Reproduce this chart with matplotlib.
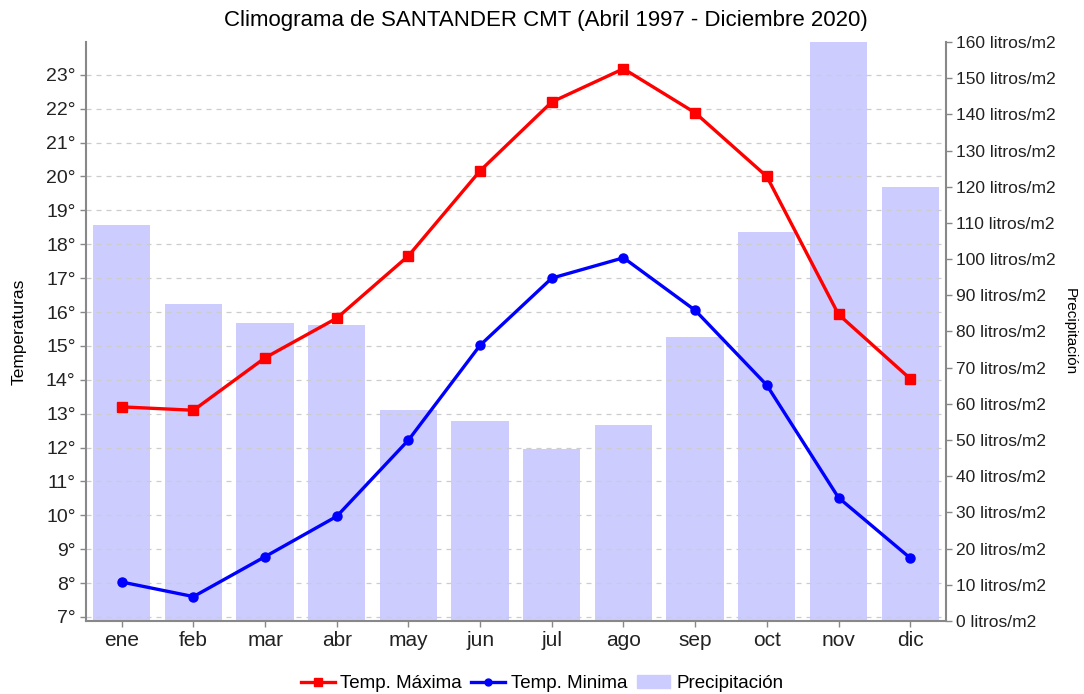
import matplotlib.pyplot as plt
from matplotlib.patches import Patch
from matplotlib.lines import Line2D

plt.rcParams['font.family'] = ['Liberation Sans', 'DejaVu Sans']

# Monthly data
months = ['ene', 'feb', 'mar', 'abr', 'may', 'jun', 'jul', 'ago', 'sep', 'oct', 'nov', 'dic']
temp_max = [13.2, 13.1, 14.65, 15.82, 17.66, 20.17, 22.2, 23.18, 21.88, 20.0, 15.93, 14.03]
temp_min = [8.03, 7.6, 8.78, 9.97, 12.22, 15.02, 17.0, 17.6, 16.05, 13.84, 10.52, 8.74]
precip = [109.5, 87.7, 82.3, 81.7, 58.2, 55.3, 47.6, 54.1, 78.6, 107.6, 160.0, 120.0]

temp_ticks = list(range(7, 24))
precip_ticks = list(range(0, 161, 10))

axis_grey = '#888888'

fig = plt.figure(figsize=(10.84, 6.94), dpi=100)
ax = fig.add_axes([0.0793, 0.1052, 0.7934, 0.8343])
ax2 = ax.twinx()

x = list(range(len(months)))

# precipitation bars on the right axis
ax2.bar(x, precip, width=0.8, color='#ccccff', zorder=1)
ax2.set_ylim(0, 160)
ax2.set_yticks(precip_ticks)
ax2.set_yticklabels([f'{v} litros/m2' for v in precip_ticks], fontsize=12.5)
ax2.set_ylabel('Precipitación', rotation=-90, fontsize=11)
ax2.yaxis.set_label_coords(1.152, 0.5)

# temperature lines on the left axis, drawn above the bars
ax.set_zorder(ax2.get_zorder() + 1)
ax.patch.set_visible(False)
ax.plot(x, temp_max, color='#ff0000', lw=2.4, marker='s', ms=7, zorder=3)
ax.plot(x, temp_min, color='#0000ff', lw=2.4, marker='o', ms=6.5, zorder=3)
ax.set_ylim(6.88, 23.97)
ax.set_yticks(temp_ticks)
ax.set_yticklabels([f'{t}°' for t in temp_ticks], fontsize=14)
ax.set_ylabel('Temperaturas', fontsize=12.5)
ax.yaxis.set_label_coords(-0.069, 0.5)
ax.set_xlim(-0.5, 11.5)
ax.set_xticks(x)
ax.set_xticklabels(months, fontsize=15)
ax.yaxis.grid(True, linestyle=(0, (4, 4)), color='#cccccc', lw=0.9)

for a in (ax, ax2):
    a.spines['top'].set_visible(False)
    for s in ('left', 'right', 'bottom'):
        a.spines[s].set_color(axis_grey)
        a.spines[s].set_linewidth(1.5)
    a.tick_params(color=axis_grey, length=4, width=1, colors='#222222')
ax2.spines['left'].set_visible(False)
ax2.spines['bottom'].set_visible(False)
ax.spines['right'].set_visible(False)

fig.text(0.504, 0.971, 'Climograma de SANTANDER CMT (Abril 1997 - Diciembre 2020)',
         fontsize=16, ha='center', va='center')

handles = [
    Line2D([], [], color='#ff0000', lw=2.4, marker='s', ms=6),
    Line2D([], [], color='#0000ff', lw=2.4, marker='o', ms=5),
    Patch(color='#ccccff'),
]
fig.legend(handles, ['Temp. Máxima', 'Temp. Minima', 'Precipitación'],
           loc='lower center', bbox_to_anchor=(0.5, -0.022), ncol=3, frameon=False,
           fontsize=13.5, handlelength=1.8, handletextpad=0.3, columnspacing=0.5)

fig.savefig('out.png', dpi=100)
